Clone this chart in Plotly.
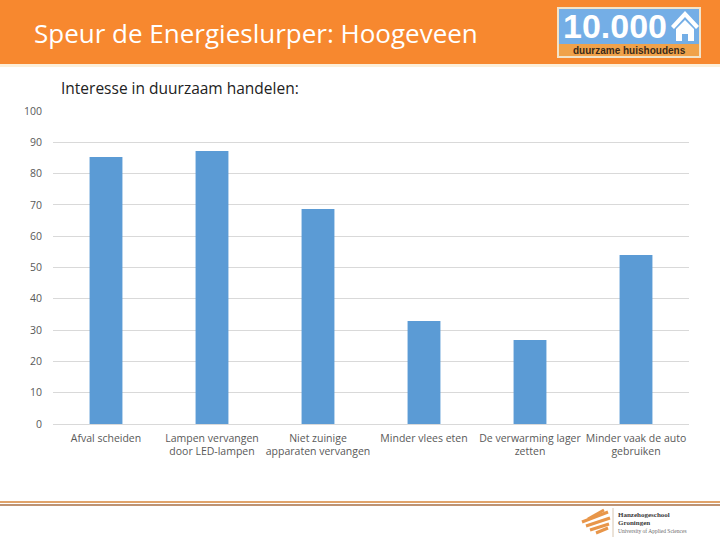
import plotly.graph_objects as go

# data
categories = [
    "Afval scheiden",
    "Lampen vervangen<br>door LED-lampen",
    "Niet zuinige<br>apparaten vervangen",
    "Minder vlees eten",
    "De verwarming lager<br>zetten",
    "Minder vaak de auto<br>gebruiken",
]
interest = [85.3, 87.2, 68.7, 32.9, 26.8, 54.0]
y_ticks = [0, 10, 20, 30, 40, 50, 60, 70, 80, 90, 100]

BAR = "#5B9BD5"
ORANGE = "#F7882F"
GREY = "#595959"
FONT = "Open Sans, sans-serif"

# plot area in pixels
L, R, T, B = 53, 689, 111, 424


def px(x):
    return (x - L) / (R - L)


def py(y):
    return (B - y) / (B - T)


fig = go.Figure(go.Bar(
    x=categories, y=interest,
    marker=dict(color=BAR, line=dict(width=0)),
    width=0.31,
))

shapes = [
    # orange header band
    dict(type="rect", xref="paper", yref="paper", x0=px(0), x1=px(720),
         y0=py(64), y1=py(0), fillcolor=ORANGE, line=dict(width=0), layer="below"),
    dict(type="rect", xref="paper", yref="paper", x0=px(0), x1=px(720),
         y0=py(67), y1=py(64), fillcolor="#FCEFD9", line=dict(width=0), layer="below"),
    # logo box
    dict(type="rect", xref="paper", yref="paper", x0=px(557), x1=px(701),
         y0=py(58), y1=py(7), fillcolor="#F3E3C8", line=dict(width=0)),
    dict(type="rect", xref="paper", yref="paper", x0=px(559), x1=px(699),
         y0=py(44), y1=py(9), fillcolor="#74AEE6", line=dict(width=0)),
    dict(type="rect", xref="paper", yref="paper", x0=px(559), x1=px(699),
         y0=py(56), y1=py(44), fillcolor="#F0A24A", line=dict(width=0)),
    # house icon
    dict(type="path", xref="paper", yref="paper",
         path=(f"M {px(671)},{py(26)} L {px(685)},{py(11)} L {px(699)},{py(26)} "
               f"L {px(696)},{py(29)} L {px(685)},{py(17)} L {px(674)},{py(29)} Z"),
         fillcolor="white", line=dict(width=0)),
    dict(type="path", xref="paper", yref="paper",
         path=(f"M {px(676)},{py(29)} L {px(685)},{py(20)} L {px(694)},{py(29)} "
               f"L {px(694)},{py(41)} L {px(688)},{py(41)} L {px(688)},{py(34)} "
               f"L {px(682)},{py(34)} L {px(682)},{py(41)} L {px(676)},{py(41)} Z"),
         fillcolor="white", line=dict(width=0)),
    # footer lines
    dict(type="line", xref="paper", yref="paper", x0=px(0), x1=px(720),
         y0=py(502), y1=py(502), line=dict(color="#E0A36A", width=2)),
    dict(type="line", xref="paper", yref="paper", x0=px(0), x1=px(720),
         y0=py(505), y1=py(505), line=dict(color="#A86F45", width=1.5)),
    # hanze logo separator
    dict(type="line", xref="paper", yref="paper", x0=px(613), x1=px(613),
         y0=py(508), y1=py(537), line=dict(color="#D8C6B0", width=1)),
]

# rough flame glyph of the hanze logo
for (x0, y0, x1, y1) in [(582, 522, 608, 512), (586, 526, 610, 518), (590, 530, 609, 524),
                         (588, 519, 604, 510), (596, 533, 608, 528)]:
    shapes.append(dict(type="line", xref="paper", yref="paper",
                       x0=px(x0), x1=px(x1), y0=py(y0), y1=py(y1),
                       line=dict(color="#E8964A", width=3)))

annotations = [
    dict(text="Speur de Energieslurper: Hoogeveen", x=px(32), y=py(33),
         xanchor="left", yanchor="middle", font=dict(size=26, color="white", family=FONT)),
    dict(text="<b>10.000</b>", x=px(561), y=py(26), xanchor="left", yanchor="middle",
         font=dict(size=34, color="white", family="Liberation Sans, sans-serif")),
    dict(text="<b>duurzame huishoudens</b>", x=px(629), y=py(50), xanchor="center", yanchor="middle",
         font=dict(size=10, color="#3A2A1A", family="Liberation Sans, sans-serif")),
    dict(text="Interesse in duurzaam handelen:", x=px(59), y=py(88),
         xanchor="left", yanchor="middle", font=dict(size=15.5, color="#222222", family=FONT)),
    dict(text="<b>Hanzehogeschool</b>", x=px(616), y=py(515), xanchor="left", yanchor="middle",
         font=dict(size=7, color="#3A3A3A", family="Liberation Serif, serif")),
    dict(text="<b>Groningen</b>", x=px(616), y=py(523), xanchor="left", yanchor="middle",
         font=dict(size=7, color="#3A3A3A", family="Liberation Serif, serif")),
    dict(text="University of Applied Sciences", x=px(616), y=py(531), xanchor="left", yanchor="middle",
         font=dict(size=5.5, color="#6A6A6A", family="Liberation Serif, serif")),
]
for a in annotations:
    a.update(xref="paper", yref="paper", showarrow=False)

fig.update_layout(
    width=720, height=540,
    margin=dict(l=L, r=720 - R, t=T, b=540 - B),
    paper_bgcolor="white", plot_bgcolor="white",
    font=dict(family=FONT, color=GREY, size=11),
    showlegend=False,
    shapes=shapes,
    annotations=annotations,
)
fig.update_xaxes(showgrid=False, showline=True, linecolor="#D9D9D9", linewidth=1,
                 ticks="", ticklabelstandoff=4, tickfont=dict(size=10.5, color=GREY), tickangle=0)
fig.update_yaxes(range=[0, 100], tickvals=y_ticks, showgrid=True, gridcolor="#D9D9D9",
                 zeroline=False, showline=False, ticks="", ticklabelstandoff=10,
                 tickfont=dict(size=10.5, color=GREY))

# drop the browser's default page margin so the figure sits at the top-left corner
fig.write_html("out.html", config={"displayModeBar": False},
               post_script="document.body.style.margin='0';")
